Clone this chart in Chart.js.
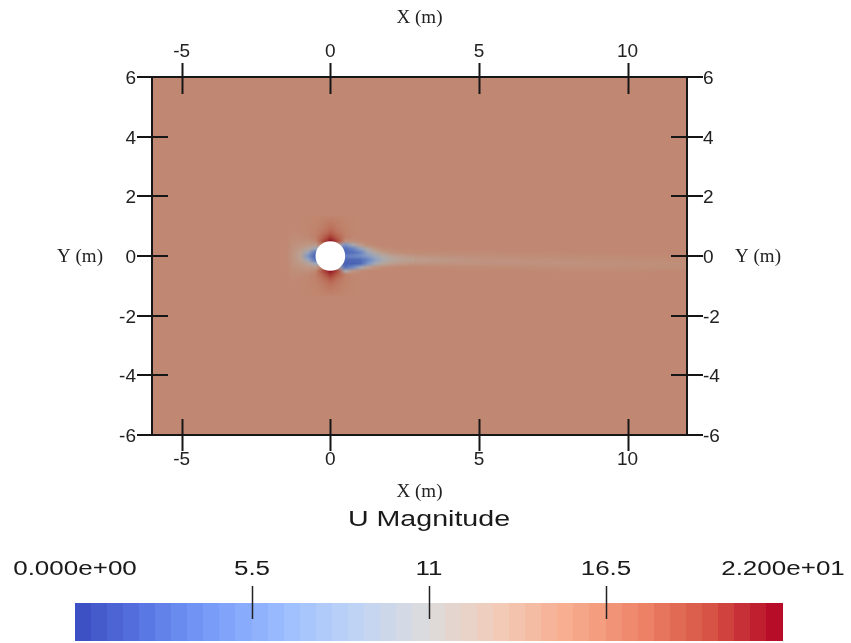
<!DOCTYPE html>
<html>
<head>
<meta charset="utf-8">
<script src="https://cdn.jsdelivr.net/npm/chart.js@4.4.1/dist/chart.umd.min.js"></script>
<style>
  html, body { margin: 0; padding: 0; background: #fff; }
  canvas { display: block; }
</style>
</head>
<body>
<canvas id="chart" width="851" height="643"></canvas>
<script>
// axis ranges and ticks (m)
const xRange = [-6, 12];
const yRange = [-6, 6];
const xTicks = [-5, 0, 5, 10];
const yTicks = [-6, -4, -2, 0, 2, 4, 6];

// colour legend for U magnitude (m/s)
const uRange = [0, 22];
const legendTicks = [0, 5.5, 11, 16.5, 22];
const legendLabels = ["0.000e+00", "5.5", "11", "16.5", "2.200e+01"];

const freestreamU = 15.2;
const cylinder = [{ x: 0, y: 0, r: 0.5 }];

// U magnitude sampled around the cylinder, rows from top to bottom
const nearX = [-1.25, -1.0, -0.75, -0.5, -0.25, 0, 0.25, 0.5, 0.75, 1.0, 1.25, 1.5, 1.75, 2.0, 2.25, 2.5, 2.75];
const nearY = [1.25, 1.125, 1.0, 0.875, 0.75, 0.625, 0.5, 0.375, 0.25, 0.125, 0, -0.125, -0.25, -0.375, -0.5, -0.625, -0.75, -0.875, -1.0, -1.125, -1.25];
const nearU = [
  [15.2, 15.2, 15.3, 15.4, 15.6, 15.8, 15.6, 15.4, 15.3, 15.2, 15.2, 15.2, 15.2, 15.2, 15.2, 15.2, 15.2],
  [15.2, 15.2, 15.3, 15.5, 15.8, 16.2, 15.8, 15.5, 15.3, 15.2, 15.2, 15.2, 15.2, 15.2, 15.2, 15.2, 15.2],
  [15.2, 15.2, 15.3, 15.5, 16.0, 16.7, 16.0, 15.5, 15.3, 15.2, 15.2, 15.2, 15.2, 15.2, 15.2, 15.2, 15.2],
  [15.1, 15.2, 15.3, 15.6, 16.3, 17.4, 16.3, 15.6, 15.3, 15.2, 15.2, 15.2, 15.2, 15.2, 15.2, 15.2, 15.2],
  [15.0, 15.1, 15.3, 15.7, 16.9, 18.4, 16.9, 15.7, 15.3, 15.2, 15.2, 15.2, 15.2, 15.2, 15.2, 15.2, 15.2],
  [14.8, 14.9, 15.1, 15.8, 17.8, 20.0, 17.8, 15.8, 15.2, 15.2, 15.2, 15.2, 15.2, 15.2, 15.2, 15.2, 15.2],
  [14.6, 14.5, 14.5, 15.2, 19.0, 21.5, 19.0, 14.5, 14.6, 15.0, 15.2, 15.2, 15.2, 15.2, 15.2, 15.2, 15.2],
  [14.4, 14.2, 13.8, 13.6, null, null, null, 6.5, 10.5, 13.5, 14.8, 15.1, 15.2, 15.2, 15.2, 15.2, 15.2],
  [14.2, 13.6, 12.5, 9.5, null, null, null, 3.5, 5.0, 8.5, 12.0, 14.0, 14.8, 15.0, 15.1, 15.2, 15.2],
  [14.1, 13.0, 9.0, 3.5, null, null, null, 3.0, 3.5, 5.0, 9.5, 12.0, 13.5, 14.2, 14.6, 14.8, 14.9],
  [14.0, 12.5, 6.5, 2.0, null, null, null, 4.5, 5.5, 6.0, 7.5, 9.5, 11.5, 12.5, 13.2, 13.6, 13.9],
  [14.1, 13.0, 9.0, 3.5, null, null, null, 3.0, 3.0, 3.2, 5.0, 8.0, 10.5, 11.8, 12.5, 12.8, 13.0],
  [14.2, 13.6, 12.5, 9.5, null, null, null, 2.5, 2.5, 3.0, 6.5, 10.0, 12.0, 13.0, 13.5, 13.8, 14.0],
  [14.4, 14.2, 13.8, 13.6, null, null, null, 3.5, 5.5, 9.5, 12.8, 14.2, 14.8, 15.0, 15.1, 15.2, 15.2],
  [14.6, 14.5, 14.5, 15.2, 19.0, 21.5, 19.0, 11.0, 13.8, 14.9, 15.2, 15.2, 15.2, 15.2, 15.2, 15.2, 15.2],
  [14.8, 14.9, 15.1, 15.8, 17.8, 20.0, 17.8, 15.8, 15.2, 15.2, 15.2, 15.2, 15.2, 15.2, 15.2, 15.2, 15.2],
  [15.0, 15.1, 15.3, 15.7, 16.9, 18.4, 16.9, 15.7, 15.3, 15.2, 15.2, 15.2, 15.2, 15.2, 15.2, 15.2, 15.2],
  [15.1, 15.2, 15.3, 15.6, 16.3, 17.4, 16.3, 15.6, 15.3, 15.2, 15.2, 15.2, 15.2, 15.2, 15.2, 15.2, 15.2],
  [15.2, 15.2, 15.3, 15.5, 16.0, 16.7, 16.0, 15.5, 15.3, 15.2, 15.2, 15.2, 15.2, 15.2, 15.2, 15.2, 15.2],
  [15.2, 15.2, 15.3, 15.5, 15.8, 16.2, 15.8, 15.5, 15.3, 15.2, 15.2, 15.2, 15.2, 15.2, 15.2, 15.2, 15.2],
  [15.2, 15.2, 15.3, 15.4, 15.6, 15.8, 15.6, 15.4, 15.3, 15.2, 15.2, 15.2, 15.2, 15.2, 15.2, 15.2, 15.2]
];

// far wake behind the cylinder
const wakeX = [3, 4, 5, 6, 7, 8, 9, 10, 11, 12];
const wakeY = [0.25, 0.125, 0, -0.125, -0.25, -0.375, -0.5, -0.625];
const wakeU = [
  [15.2, 15.2, 15.2, 15.2, 15.2, 15.2, 15.2, 15.2, 15.2, 15.2],
  [14.9, 15.0, 15.0, 15.1, 15.1, 15.1, 15.2, 15.2, 15.2, 15.2],
  [14.1, 14.4, 14.6, 14.7, 14.8, 14.9, 14.9, 15.0, 15.0, 15.1],
  [13.3, 13.9, 14.2, 14.3, 14.4, 14.5, 14.6, 14.7, 14.8, 14.9],
  [14.1, 14.2, 14.2, 14.3, 14.3, 14.3, 14.4, 14.5, 14.6, 14.6],
  [15.1, 15.0, 14.9, 14.8, 14.7, 14.6, 14.6, 14.6, 14.6, 14.7],
  [15.2, 15.2, 15.2, 15.1, 15.1, 15.0, 15.0, 15.0, 15.1, 15.1],
  [15.2, 15.2, 15.2, 15.2, 15.2, 15.2, 15.2, 15.2, 15.2, 15.2]
];

// cool-to-warm colour map
const coolwarm = [
  [59, 76, 192], [89, 119, 227], [123, 159, 249], [158, 190, 255], [192, 212, 245],
  [221, 220, 220], [242, 203, 183], [247, 172, 142], [238, 132, 104], [214, 82, 68], [180, 4, 38]
];
const fieldShade = 0.78;
const legendBands = 44;

function uColor(u, shade) {
  let t = (u - uRange[0]) / (uRange[1] - uRange[0]);
  t = Math.max(0, Math.min(1, t)) * (coolwarm.length - 1);
  const i = Math.min(Math.floor(t), coolwarm.length - 2);
  const f = t - i;
  const a = coolwarm[i], b = coolwarm[i + 1];
  return [0, 1, 2].map(k => Math.round((a[k] + (b[k] - a[k]) * f) * shade));
}
const rgb = c => `rgb(${c[0]},${c[1]},${c[2]})`;

// cells hidden by the cylinder take the mean of their neighbours
function fillHoles(vals) {
  let g = vals.map(r => r.slice());
  let left = true;
  while (left) {
    left = false;
    const next = g.map(r => r.slice());
    for (let j = 0; j < g.length; j++) {
      for (let i = 0; i < g[j].length; i++) {
        if (g[j][i] !== null) continue;
        const n = [[j - 1, i], [j + 1, i], [j, i - 1], [j, i + 1]]
          .filter(([a, b]) => g[a] && g[a][b] != null)
          .map(([a, b]) => g[a][b]);
        if (n.length) next[j][i] = n.reduce((s, v) => s + v, 0) / n.length;
        else left = true;
      }
    }
    g = next;
  }
  return g;
}

// smooth-shaded grid; a side padded with "free" fades into the free stream,
// "edge" repeats the outer column so two grids can meet without a seam
function drawGrid(chart, xs, ys, vals, padL, padR, clipL, clipR) {
  const { ctx, chartArea: a, scales: { x, y } } = chart;
  const nx = xs.length, ny = ys.length;
  const grid = fillHoles(vals);
  const off = document.createElement("canvas");
  off.width = nx + 2;
  off.height = ny + 2;
  const octx = off.getContext("2d");
  const img = octx.createImageData(nx + 2, ny + 2);
  for (let j = 0; j < ny + 2; j++) {
    for (let i = 0; i < nx + 2; i++) {
      let u = freestreamU;
      if (j > 0 && j <= ny) {
        if (i > 0 && i <= nx) u = grid[j - 1][i - 1];
        else if (i === 0 && padL === "edge") u = grid[j - 1][0];
        else if (i === nx + 1 && padR === "edge") u = grid[j - 1][nx - 1];
      }
      const c = uColor(u, fieldShade);
      const k = 4 * (j * (nx + 2) + i);
      img.data[k] = c[0];
      img.data[k + 1] = c[1];
      img.data[k + 2] = c[2];
      img.data[k + 3] = 255;
    }
  }
  octx.putImageData(img, 0, 0);
  const dx = xs[1] - xs[0], dy = ys[0] - ys[1];
  const l = x.getPixelForValue(xs[0] - 1.5 * dx);
  const r = x.getPixelForValue(xs[nx - 1] + 1.5 * dx);
  const t = y.getPixelForValue(ys[0] + 1.5 * dy);
  const b = y.getPixelForValue(ys[ny - 1] - 1.5 * dy);
  const cl = clipL == null ? a.left : Math.max(a.left, x.getPixelForValue(clipL));
  const cr = clipR == null ? a.right : Math.min(a.right, x.getPixelForValue(clipR));
  ctx.save();
  ctx.beginPath();
  ctx.rect(cl, a.top, cr - cl, a.bottom - a.top);
  ctx.clip();
  ctx.imageSmoothingEnabled = true;
  ctx.drawImage(off, l, t, r - l, b - t);
  ctx.restore();
}

const fieldPlugin = {
  id: "field",
  beforeDatasetsDraw(chart) {
    const { ctx, chartArea: a } = chart;
    ctx.save();
    ctx.fillStyle = rgb(uColor(freestreamU, fieldShade));
    ctx.fillRect(a.left, a.top, a.right - a.left, a.bottom - a.top);
    const seam = (nearX[nearX.length - 1] + wakeX[0]) / 2;
    drawGrid(chart, nearX, nearY, nearU, "free", "edge", null, seam);
    drawGrid(chart, wakeX, wakeY, wakeU, "edge", "edge", seam, null);
    ctx.restore();
  }
};

function stretchedText(ctx, str, cx, base, sx) {
  ctx.save();
  ctx.translate(cx, base);
  ctx.scale(sx, 1);
  ctx.textAlign = "center";
  ctx.textBaseline = "alphabetic";
  ctx.fillText(str, 0, 0);
  ctx.restore();
}

const axesPlugin = {
  id: "axes",
  afterDatasetsDraw(chart) {
    const { ctx, chartArea: a, scales: { x, y } } = chart;
    ctx.save();
    ctx.strokeStyle = "#161616";
    ctx.lineWidth = 2;
    ctx.strokeRect(a.left, a.top, a.right - a.left, a.bottom - a.top);

    ctx.beginPath();
    xTicks.forEach(v => {
      const px = Math.round(x.getPixelForValue(v)) + 0.5;
      ctx.moveTo(px, a.top - 14); ctx.lineTo(px, a.top + 17);
      ctx.moveTo(px, a.bottom - 16); ctx.lineTo(px, a.bottom + 16);
    });
    yTicks.forEach(v => {
      const py = Math.round(y.getPixelForValue(v));
      ctx.moveTo(a.left - 15, py); ctx.lineTo(a.left + 16, py);
      ctx.moveTo(a.right - 16, py); ctx.lineTo(a.right + 16, py);
    });
    ctx.stroke();

    ctx.fillStyle = "#222";
    ctx.font = '19px "Liberation Sans", Arial, sans-serif';
    ctx.textBaseline = "alphabetic";
    ctx.textAlign = "center";
    xTicks.forEach(v => {
      const px = x.getPixelForValue(v);
      ctx.fillText(String(v), px, 57);
      ctx.fillText(String(v), px, 465);
    });
    yTicks.forEach(v => {
      const py = y.getPixelForValue(v) + 7;
      ctx.textAlign = "right";
      ctx.fillText(String(v), a.left - 16, py);
      ctx.textAlign = "left";
      ctx.fillText(String(v), a.right + 16, py);
    });

    ctx.font = '19px "Liberation Serif", "Times New Roman", serif';
    ctx.textAlign = "center";
    const midX = (a.left + a.right) / 2, midY = (a.top + a.bottom) / 2;
    ctx.fillText("X (m)", midX, 23);
    ctx.fillText("X (m)", midX, 497);
    ctx.fillText("Y (m)", 80, midY + 6);
    ctx.fillText("Y (m)", 758, midY + 6);

    // colour legend
    const bl = 75, br = 783, bt = 603, bb = 641;
    const toPx = v => bl + (br - bl) * (v - uRange[0]) / (uRange[1] - uRange[0]);
    for (let i = 0; i < legendBands; i++) {
      const x0 = bl + (br - bl) * i / legendBands;
      const x1 = bl + (br - bl) * (i + 1) / legendBands;
      const u = uRange[0] + (uRange[1] - uRange[0]) * (i + 0.5) / legendBands;
      ctx.fillStyle = rgb(uColor(u, 1));
      ctx.fillRect(Math.floor(x0), bt, Math.ceil(x1) - Math.floor(x0), bb - bt);
    }
    ctx.strokeStyle = "#222";
    ctx.lineWidth = 1.5;
    ctx.beginPath();
    legendTicks.forEach(v => {
      if (v <= uRange[0] || v >= uRange[1]) return;
      const px = Math.round(toPx(v)) + 0.5;
      ctx.moveTo(px, 586); ctx.lineTo(px, 619);
    });
    ctx.stroke();

    ctx.fillStyle = "#1a1a1a";
    ctx.font = '20px "Liberation Sans", Arial, sans-serif';
    legendTicks.forEach((v, i) => stretchedText(ctx, legendLabels[i], toPx(v), 575, 1.3));
    ctx.font = '22px "Liberation Sans", Arial, sans-serif';
    stretchedText(ctx, "U Magnitude", (bl + br) / 2, 526, 1.3);
    ctx.restore();
  }
};

const cylinderRadius = ctx => {
  const s = ctx.chart.scales.x;
  return Math.abs(s.getPixelForValue(cylinder[ctx.dataIndex].r) - s.getPixelForValue(0));
};

new Chart(document.getElementById("chart"), {
  type: "scatter",
  data: {
    datasets: [{
      label: "cylinder",
      data: cylinder.map(c => ({ x: c.x, y: c.y })),
      pointRadius: cylinderRadius,
      pointHoverRadius: cylinderRadius,
      backgroundColor: "#ffffff",
      borderWidth: 0
    }]
  },
  options: {
    responsive: false,
    animation: false,
    devicePixelRatio: 1,
    events: [],
    layout: { padding: { left: 152, top: 77, right: 164, bottom: 208 } },
    scales: {
      x: { type: "linear", min: xRange[0], max: xRange[1], display: false },
      y: { type: "linear", min: yRange[0], max: yRange[1], display: false }
    },
    plugins: { legend: { display: false }, tooltip: { enabled: false } }
  },
  plugins: [fieldPlugin, axesPlugin]
});
</script>
</body>
</html>
